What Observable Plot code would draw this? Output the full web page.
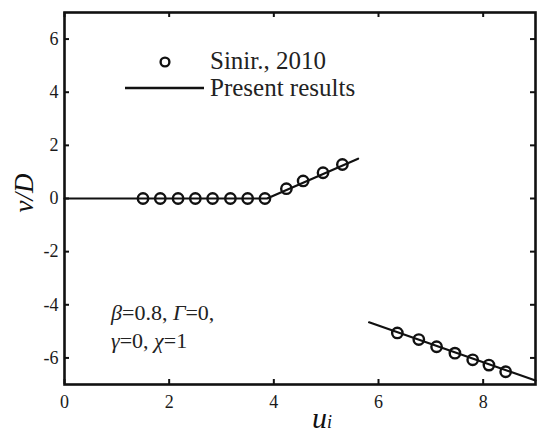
<!DOCTYPE html>
<html><head><meta charset="utf-8">
<script src="https://cdn.jsdelivr.net/npm/d3@7"></script>
<script src="https://cdn.jsdelivr.net/npm/@observablehq/plot@0.6"></script>
<style>body{margin:0;background:#fff} #chart svg{display:block}</style>
</head><body><div id="chart"></div>
<script>
// Tick values
const xTicks = [0, 2, 4, 6, 8];
const yTicks = [-6, -4, -2, 0, 2, 4, 6];
// Sinir., 2010 (circles)
const sinirX = [1.5, 1.83, 2.17, 2.5, 2.83, 3.17, 3.5, 3.83, 4.24, 4.56, 4.94, 5.31, 6.36, 6.77, 7.11, 7.46, 7.80, 8.11, 8.43];
const sinirY = [0, 0, 0, 0, 0, 0, 0, 0, 0.37, 0.66, 0.97, 1.28, -5.06, -5.31, -5.58, -5.82, -6.07, -6.27, -6.52];
// Present results (lines, two branches)
const branch1X = [0, 3.87, 5.61];
const branch1Y = [0, 0, 1.5];
const branch2X = [5.82, 9];
const branch2Y = [-4.66, -6.85];

const circles = sinirX.map((x, i) => ({x, y: sinirY[i]}));
const lines = [
  ...branch1X.map((x, i) => ({x, y: branch1Y[i], b: 1})),
  ...branch2X.map((x, i) => ({x, y: branch2Y[i], b: 2}))
];

const serif = "'Liberation Serif', 'Times New Roman', serif";
const ink = "#111";
const W = 550, H = 439, mL = 64, mR = 15, mT = 12, mB = 55;
const fw = W - mL - mR, fh = H - mT - mB, tk = 5;

const plot = Plot.plot({
  width: W, height: H,
  marginLeft: mL, marginRight: mR, marginTop: mT, marginBottom: mB,
  style: {fontFamily: serif, fontSize: "18px", color: "#1a1a1a", background: "#fff"},
  x: {domain: [0, 9]},
  y: {domain: [-7, 7]},
  marks: [
    Plot.axisX(xTicks, {anchor: "bottom", tickSize: 0, tickPadding: 11, label: null, fontSize: 18, fontFamily: serif, tickFormat: d => String(d)}),
    Plot.axisY(yTicks, {anchor: "left", tickSize: 0, tickPadding: 6, label: null, fontSize: 18, fontFamily: serif, tickFormat: d => String(d)}),
    // inward ticks on all four sides
    Plot.ruleX(xTicks, {x: d => d, insetTop: fh - tk, stroke: ink, strokeWidth: 2}),
    Plot.ruleX(xTicks, {x: d => d, insetBottom: fh - tk, stroke: ink, strokeWidth: 2}),
    Plot.ruleY(yTicks, {y: d => d, insetRight: fw - tk, stroke: ink, strokeWidth: 2}),
    Plot.ruleY(yTicks, {y: d => d, insetLeft: fw - tk, stroke: ink, strokeWidth: 2}),
    Plot.line(lines, {x: "x", y: "y", z: "b", stroke: ink, strokeWidth: 2.2}),
    Plot.dot(circles, {x: "x", y: "y", r: 5.2, stroke: ink, strokeWidth: 2.4, fill: "none"}),
    Plot.frame({stroke: ink, strokeWidth: 2.6}),
    Plot.text(["v/D"], {frameAnchor: "left", dx: -40, dy: 14, rotate: -90, fontStyle: "italic", fontSize: 27, fill: "#111"})
  ]
});
document.getElementById("chart").appendChild(plot);

const svg = d3.select(plot);
// Legend
svg.append("circle").attr("cx", 165).attr("cy", 62).attr("r", 4.4)
  .attr("fill", "none").attr("stroke", ink).attr("stroke-width", 2.4);
svg.append("line").attr("x1", 125).attr("x2", 204).attr("y1", 88).attr("y2", 88)
  .attr("stroke", ink).attr("stroke-width", 2.4);
svg.append("text").attr("x", 210).attr("y", 69).attr("text-anchor", "start").attr("font-size", 25)
  .attr("fill", "#222").text("Sinir., 2010");
svg.append("text").attr("x", 210).attr("y", 96).attr("text-anchor", "start").attr("font-size", 25)
  .attr("fill", "#222").text("Present results");

// Parameter annotation
function mixed(x, y, parts, size) {
  const t = svg.append("text").attr("x", x).attr("y", y).attr("text-anchor", "start")
    .attr("font-size", size).attr("fill", "#222");
  parts.forEach(([s, it]) => t.append("tspan").attr("font-style", it ? "italic" : "normal").text(s));
}
mixed(111, 320, [["β", 1], ["=0.8, ", 0], ["Γ", 1], ["=0,", 0]], 22);
mixed(111, 348, [["γ", 1], ["=0, ", 0], ["χ", 1], ["=1", 0]], 22);

// x-axis label u_i
const xl = svg.append("text").attr("x", 312).attr("y", 428).attr("text-anchor", "start")
  .attr("font-style", "italic").attr("fill", "#111");
xl.append("tspan").attr("font-size", 30).text("u");
xl.append("tspan").attr("font-size", 18).text("i");

// force serif on every text element, and size on the tick labels
svg.selectAll("text, tspan").style("font-family", serif);
svg.selectAll("g[aria-label$='tick label'] text").style("font-size", "18px").style("fill", "#1a1a1a");
</script>
</body></html>
